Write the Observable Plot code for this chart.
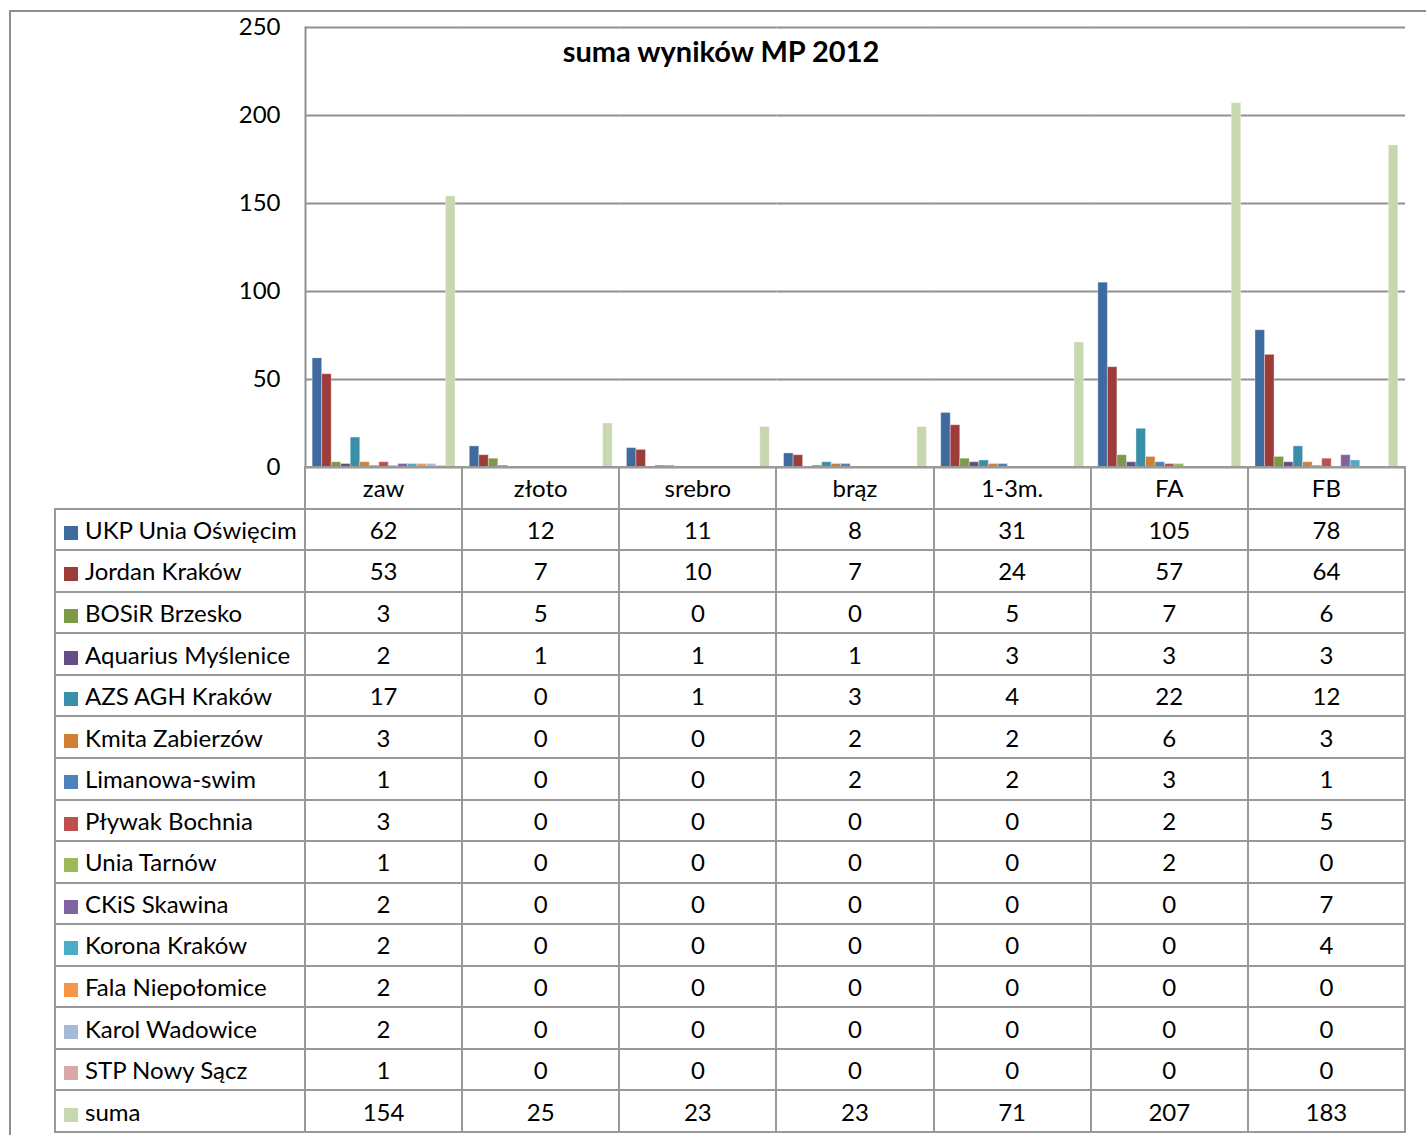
<!DOCTYPE html>
<html><head><meta charset="utf-8">
<script src="https://cdn.jsdelivr.net/npm/d3@7"></script>
<script src="https://cdn.jsdelivr.net/npm/@observablehq/plot@0.6"></script>
<style>
html,body{margin:0;padding:0;background:#fff;overflow:hidden}
#wrap{position:relative;width:1426px;height:1135px;overflow:hidden;font-family:Lato, "Open Sans", sans-serif;color:#000}
#outer{position:absolute;left:9px;top:10px;width:1500px;height:1300px;border-left:2px solid #8f8f8f;border-top:2px solid #8f8f8f}
#title{position:absolute;left:0;width:1442px;top:34px;text-align:center;font-weight:bold;font-size:29px;line-height:34px}
#chart{position:absolute;left:0;top:0}
#tbl{position:absolute;left:54px;top:466px;border-collapse:collapse;table-layout:fixed;height:667px;font-size:24px}
#tbl td{border:2px solid #999;padding:0;height:30px;text-align:center;white-space:nowrap;overflow:hidden}
#tbl td.name{text-align:left;padding-left:8px}
#tbl td.corner{border-top:none;border-left:none}
.key{display:inline-block;width:14px;height:14px;margin-right:7px;vertical-align:-1px}
</style>
</head><body>
<div id="wrap">
  <div id="outer"></div>
  <div id="chart"></div>
  <div id="title">suma wyników MP 2012</div>
  <table id="tbl"></table>
</div>
<script>
const categories = ["zaw", "złoto", "srebro", "brąz", "1-3m.", "FA", "FB"];
const clubs = ["UKP Unia Oświęcim", "Jordan Kraków", "BOSiR Brzesko", "Aquarius Myślenice", "AZS AGH Kraków", "Kmita Zabierzów", "Limanowa-swim", "Pływak Bochnia", "Unia Tarnów", "CKiS Skawina", "Korona Kraków", "Fala Niepołomice", "Karol Wadowice", "STP Nowy Sącz", "suma"];
const ukpUniaOswiecim = [62, 12, 11, 8, 31, 105, 78];
const jordanKrakow    = [53, 7, 10, 7, 24, 57, 64];
const bosirBrzesko    = [3, 5, 0, 0, 5, 7, 6];
const aquariusMyslenice = [2, 1, 1, 1, 3, 3, 3];
const azsAghKrakow    = [17, 0, 1, 3, 4, 22, 12];
const kmitaZabierzow  = [3, 0, 0, 2, 2, 6, 3];
const limanowaSwim    = [1, 0, 0, 2, 2, 3, 1];
const plywakBochnia   = [3, 0, 0, 0, 0, 2, 5];
const uniaTarnow      = [1, 0, 0, 0, 0, 2, 0];
const ckisSkawina     = [2, 0, 0, 0, 0, 0, 7];
const koronaKrakow    = [2, 0, 0, 0, 0, 0, 4];
const falaNiepolomice = [2, 0, 0, 0, 0, 0, 0];
const karolWadowice   = [2, 0, 0, 0, 0, 0, 0];
const stpNowySacz     = [1, 0, 0, 0, 0, 0, 0];
const suma            = [154, 25, 23, 23, 71, 207, 183];
const yTicks = [0, 50, 100, 150, 200, 250];
const colors = ["#3E6A9F", "#9E3C3A", "#7F9A47", "#654E86", "#3A8FA8", "#D27E34", "#4F81BD", "#C0504D", "#9BBB59", "#8064A2", "#4BACC6", "#F79646", "#A7B9D9", "#D9A7A6", "#C7D8AE"];

const seriesValues = [ukpUniaOswiecim, jordanKrakow, bosirBrzesko, aquariusMyslenice, azsAghKrakow, kmitaZabierzow, limanowaSwim, plywakBochnia, uniaTarnow, ckisSkawina, koronaKrakow, falaNiepolomice, karolWadowice, stpNowySacz, suma];

const data = [];
clubs.forEach((club, i) => categories.forEach((cat, j) => data.push({club, cat, value: seriesValues[i][j]})));

const chart = Plot.plot({
  width: 1426, height: 480,
  marginTop: 27, marginBottom: 13, marginLeft: 305, marginRight: 21,
  style: {fontFamily: "Lato, 'Open Sans', sans-serif", fontSize: "23px", color: "#000", background: "transparent", overflow: "visible"},
  fx: {domain: categories, padding: 0, round: false, axis: null},
  x: {domain: clubs, paddingInner: 0, paddingOuter: 0.75, round: false, axis: null},
  y: {domain: [0, 250], axis: null},
  color: {domain: clubs, range: colors},
  marks: [
    Plot.gridY(yTicks, {stroke: "#8f8f8f", strokeOpacity: 1, strokeWidth: 2}),
    Plot.barY(data.filter(d => d.value > 0), {fx: "cat", x: "club", y: "value", fill: "club", stroke: "#ffffff", strokeOpacity: 0.35, strokeWidth: 1}),
    Plot.axisY(yTicks, {tickSize: 0, tickPadding: 25, fontSize: 24, fill: "#000", label: null}),
    Plot.frame({anchor: "left", stroke: "#8f8f8f", strokeWidth: 2, facetAnchor: "left"})
  ]
});
document.getElementById("chart").appendChild(chart);

// data table below the chart
const tbl = document.getElementById("tbl");
const cg = document.createElement("colgroup");
[250, ...categories.map(() => 1100 / categories.length)].forEach(w => {
  const c = document.createElement("col"); c.style.width = w + "px"; cg.appendChild(c);
});
tbl.appendChild(cg);
const head = document.createElement("tr");
const corner = document.createElement("td"); corner.className = "corner"; head.appendChild(corner);
categories.forEach(c => { const td = document.createElement("td"); td.textContent = c; head.appendChild(td); });
tbl.appendChild(head);
clubs.forEach((club, i) => {
  const tr = document.createElement("tr");
  const nm = document.createElement("td"); nm.className = "name";
  const key = document.createElement("span"); key.className = "key"; key.style.background = colors[i];
  nm.appendChild(key); nm.appendChild(document.createTextNode(club));
  tr.appendChild(nm);
  seriesValues[i].forEach(v => { const td = document.createElement("td"); td.textContent = v; tr.appendChild(td); });
  tbl.appendChild(tr);
});
</script>
</body></html>
